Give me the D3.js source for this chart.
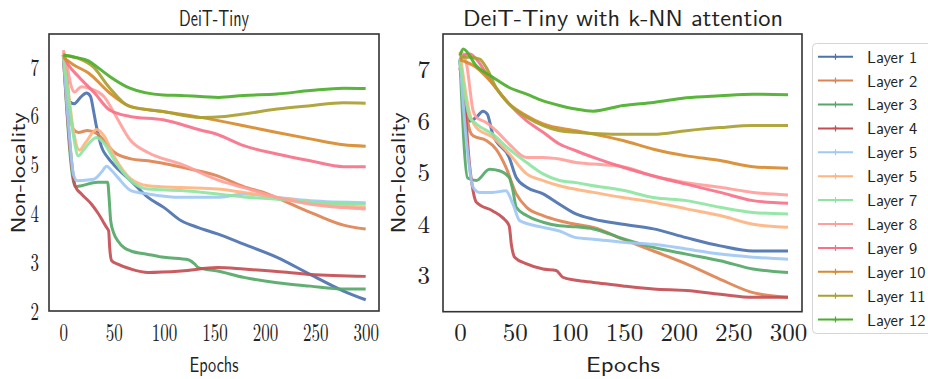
<!DOCTYPE html>
<html>
<head>
<meta charset="utf-8">
<script src="https://cdn.jsdelivr.net/npm/d3@7"></script>
<style>
  body { margin: 0; background: #fff; }
  svg { display: block; }
</style>
</head>
<body>
<div id="chart"></div>
<script>
// legend labels as in the figure (the second "Layer 5" is really layer 6)
const layerNames = ["Layer 1", "Layer 2", "Layer 3", "Layer 4", "Layer 5", "Layer 5",
  "Layer 7", "Layer 8", "Layer 9", "Layer 10", "Layer 11", "Layer 12"];
const layerColors = ["#4c72b0", "#dd8452", "#55a868", "#c44e52", "#a1c9f4", "#ffb482",
  "#8de5a1", "#ff9f9b", "#f77189", "#d88a2e", "#a9a030", "#4caf2b"];
const epochTicks = [0, 50, 100, 150, 200, 250, 300];
const yTicksLeft = [2, 3, 4, 5, 6, 7];
const yTicksRight = [3, 4, 5, 6, 7];

// DeiT-Tiny, [epoch, non-locality] per layer
const deitTiny = [
  [[0,7.25],[3,6.9],[6,6.3],[11,6.25],[17,6.38],[23,6.47],[27,6.4],[30,6.1],[33,5.77],[38,5.36],[44,5.15],[51,4.98],[67,4.67],[84,4.33],[100,4.12],[117,3.85],[134,3.71],[153,3.58],[179,3.37],[212,3.1],[245,2.75],[278,2.41],[300,2.23]],
  [[0,7.2],[5,6.3],[10,5.72],[15,5.66],[24,5.7],[34,5.63],[42,5.45],[51,5.25],[67,5.12],[84,5.08],[117,4.95],[153,4.77],[179,4.55],[200,4.42],[225,4.2],[250,3.98],[278,3.76],[300,3.68]],
  [[0,7.25],[12,4.55],[18,4.57],[34,4.64],[44,4.64],[45.5,4.3],[47,3.85],[50,3.6],[54,3.44],[67,3.23],[84,3.16],[100,3.1],[124,3.05],[130,2.97],[134,2.89],[153,2.82],[179,2.69],[212,2.58],[245,2.51],[278,2.45],[300,2.45]],
  [[0,7.25],[12,4.55],[18,4.4],[28,4.19],[34,4.02],[43,3.71],[45,3.64],[46,3.3],[48,3.03],[54,2.96],[67,2.86],[84,2.79],[117,2.82],[153,2.89],[179,2.86],[212,2.81],[245,2.75],[300,2.71]],
  [[0,7.25],[6,5.6],[10,4.8],[14,4.67],[30,4.7],[38,4.85],[43,4.97],[48,4.88],[54,4.74],[67,4.47],[84,4.4],[117,4.33],[153,4.33],[179,4.4],[212,4.33],[245,4.26],[300,4.22]],
  [[0,7.3],[5,6.5],[10,5.7],[16,5.3],[22,5.45],[33,5.72],[40,5.6],[51,5.15],[67,4.71],[84,4.57],[117,4.53],[153,4.5],[179,4.43],[212,4.33],[245,4.23],[278,4.16],[300,4.12]],
  [[0,7.25],[5,6.4],[10,5.6],[15,5.18],[20,5.3],[33,5.56],[40,5.45],[51,5.08],[67,4.67],[84,4.5],[117,4.47],[153,4.4],[179,4.34],[212,4.29],[245,4.23],[300,4.19]],
  [[0,7.35],[3,7.1],[8,6.6],[11,6.49],[18,6.6],[28,6.55],[41,6.38],[51,6.04],[67,5.49],[84,5.25],[117,5.01],[153,4.69],[179,4.53],[212,4.33],[245,4.19],[278,4.12],[300,4.09]],
  [[0,7.25],[5,7.05],[15,6.81],[31,6.47],[46,6.12],[66,5.99],[99,5.92],[136,5.71],[153,5.62],[179,5.39],[212,5.22],[245,5.08],[278,4.96],[300,4.96]],
  [[0,7.2],[10,7.05],[25,6.88],[46,6.47],[66,6.2],[99,6.09],[136,5.97],[179,5.8],[212,5.66],[245,5.53],[278,5.41],[300,5.38]],
  [[0,7.25],[15,7.18],[30,7.0],[45,6.6],[66,6.19],[99,6.09],[136,5.97],[160,5.99],[179,6.04],[212,6.14],[245,6.21],[278,6.27],[300,6.26]],
  [[0,7.25],[12,7.2],[25,7.13],[35,6.98],[46,6.81],[66,6.57],[99,6.43],[117,6.42],[154,6.38],[179,6.42],[212,6.45],[245,6.52],[278,6.57],[300,6.56]]
];

// DeiT-Tiny with k-NN attention
const deitKnn = [
  [[0,7.2],[4,6.34],[9,6.01],[15,6.08],[21,6.2],[25,6.14],[30,5.75],[45,5.3],[51.5,4.91],[61,4.72],[76,4.59],[91,4.39],[106,4.2],[122,4.1],[149,4.0],[177,3.91],[207,3.74],[238,3.58],[268,3.48],[300,3.48]],
  [[0,7.2],[9,5.82],[12,5.72],[24,5.63],[33,5.46],[42,5.11],[51.5,4.59],[61,4.33],[76,4.17],[91,4.07],[106,4.0],[122,3.94],[149,3.71],[177,3.48],[207,3.23],[238,2.93],[268,2.67],[300,2.58]],
  [[0,7.2],[7,4.9],[15,4.85],[27,5.07],[36,5.04],[45,4.91],[48.5,4.65],[51.5,4.33],[61,4.17],[76,4.04],[91,3.97],[106,3.95],[122,3.91],[149,3.72],[177,3.55],[207,3.42],[238,3.29],[268,3.13],[300,3.06]],
  [[0,7.05],[4,6.4],[9,5.11],[12,4.65],[15,4.43],[30,4.26],[39,4.13],[45,3.97],[47,3.61],[50,3.36],[61,3.23],[76,3.13],[88,3.1],[94,2.97],[106,2.91],[122,2.87],[149,2.8],[177,2.74],[207,2.71],[238,2.64],[268,2.58],[300,2.58]],
  [[0,7.2],[6,5.6],[12,4.72],[18,4.62],[30,4.62],[42,4.65],[48.5,4.39],[54.6,4.07],[76,3.94],[91,3.87],[106,3.74],[122,3.71],[149,3.65],[177,3.61],[207,3.52],[238,3.42],[268,3.36],[300,3.32]],
  [[0,7.35],[9,6.14],[15,5.88],[30,5.69],[45,5.37],[61,4.98],[76,4.85],[91,4.75],[106,4.68],[122,4.62],[149,4.52],[177,4.43],[207,4.3],[238,4.17],[268,4.0],[300,3.94]],
  [[0,7.2],[9,6.08],[15,5.95],[30,5.75],[45,5.46],[61,5.2],[76,4.98],[91,4.85],[106,4.81],[122,4.75],[149,4.66],[177,4.52],[207,4.46],[238,4.33],[268,4.23],[300,4.2]],
  [[0,7.35],[3,7.3],[6,7.12],[12,6.21],[15,6.08],[24,5.98],[33,5.82],[45,5.56],[61,5.3],[76,5.3],[91,5.27],[106,5.2],[122,5.17],[149,5.12],[177,4.94],[207,4.81],[238,4.72],[268,4.62],[300,4.57]],
  [[0,7.2],[5,7.3],[9,7.31],[15,7.21],[30,6.73],[45,6.34],[61,6.01],[76,5.79],[91,5.56],[106,5.43],[122,5.3],[149,5.11],[177,4.94],[207,4.78],[238,4.62],[268,4.46],[300,4.41]],
  [[0,7.2],[15,7.05],[30,6.73],[45,6.34],[61,6.11],[76,5.95],[106,5.82],[149,5.63],[177,5.46],[207,5.33],[238,5.24],[268,5.12],[300,5.09]],
  [[0,7.25],[9,7.25],[18,7.21],[24,7.05],[33,6.66],[45,6.34],[61,6.08],[76,5.92],[91,5.82],[106,5.79],[149,5.75],[177,5.75],[207,5.82],[238,5.88],[268,5.92],[300,5.92]],
  [[0,7.28],[3,7.41],[15,7.08],[30,6.86],[45,6.66],[61,6.53],[76,6.4],[91,6.31],[106,6.24],[122,6.2],[149,6.31],[177,6.37],[207,6.46],[238,6.5],[268,6.53],[300,6.52]]
];

const width = 928, height = 379;
const sans = "'Latin Modern Sans', 'CMU Sans Serif', Lato, sans-serif";
const serif = "'Latin Modern Roman', 'Liberation Serif', serif";
const ink = "#222";

const svg = d3.select("#chart").append("svg")
  .attr("width", width)
  .attr("height", height)
  .attr("viewBox", [0, 0, width, height]);

function panel(opts) {
  const x = d3.scaleLinear().domain(opts.xDomain).range([opts.left, opts.right]);
  const y = d3.scaleLinear().domain(opts.yDomain).range([opts.bottom, opts.top]);
  const sx = opts.squeeze;
  const g = svg.append("g");

  const clipId = "clip" + opts.id;
  g.append("clipPath").attr("id", clipId).append("rect")
    .attr("x", opts.left).attr("y", opts.top)
    .attr("width", opts.right - opts.left).attr("height", opts.bottom - opts.top);

  const line = d3.line()
    .x(d => x(d[0]))
    .y(d => y(d[1]))
    .curve(d3.curveMonotoneX);

  g.append("g").attr("clip-path", `url(#${clipId})`)
    .selectAll("path")
    .data(opts.data)
    .join("path")
    .attr("fill", "none")
    .attr("stroke", (d, i) => layerColors[i])
    .attr("stroke-width", 3)
    .attr("stroke-opacity", 0.92)
    .attr("stroke-linejoin", "round")
    .attr("d", line);

  // frame
  g.append("rect")
    .attr("x", opts.left).attr("y", opts.top)
    .attr("width", opts.right - opts.left).attr("height", opts.bottom - opts.top)
    .attr("fill", "none").attr("stroke", "#333").attr("stroke-width", 1.6);

  const xAxis = g.append("g")
    .attr("transform", `translate(0,${opts.bottom})`)
    .call(d3.axisBottom(x).tickValues(epochTicks).tickSize(0).tickPadding(12).tickFormat(d3.format("d")));
  const yAxis = g.append("g")
    .attr("transform", `translate(${opts.left},0)`)
    .call(d3.axisLeft(y).tickValues(opts.yTicks).tickSize(0).tickPadding(opts.yPad / sx).tickFormat(d3.format("d")));
  [xAxis, yAxis].forEach(a => {
    a.attr("font-family", null).attr("font-size", null);
    a.select(".domain").remove();
    a.selectAll("text")
      .style("font-family", serif)
      .style("font-size", "25px")
      .attr("fill", ink)
      .attr("transform", `scale(${sx},1)`);
  });

  g.append("text")
    .attr("x", opts.titleX).attr("y", 26)
    .attr("text-anchor", "middle")
    .style("font-family", sans).style("font-size", "23px").attr("fill", ink)
    .attr("textLength", opts.titleLen).attr("lengthAdjust", "spacingAndGlyphs")
    .text(opts.title);

  g.append("text")
    .attr("x", opts.titleX).attr("y", 372)
    .attr("text-anchor", "middle")
    .style("font-family", sans).style("font-size", "22px").attr("fill", ink)
    .attr("textLength", opts.epochLen).attr("lengthAdjust", "spacingAndGlyphs")
    .text("Epochs");

  g.append("text")
    .attr("transform", `translate(${opts.ylabX},173) rotate(-90)`)
    .attr("text-anchor", "middle")
    .style("font-family", sans).style("font-size", "20px").attr("fill", ink)
    .attr("textLength", 121).attr("lengthAdjust", "spacingAndGlyphs")
    .text("Non-locality");
}

panel({
  id: "L", data: deitTiny, title: "DeiT-Tiny",
  left: 49, right: 379, top: 34, bottom: 311,
  xDomain: [-14.2, 313.2], yDomain: [2, 7.68], yTicks: yTicksLeft,
  squeeze: 0.68, yPad: 10, titleX: 214, titleLen: 70, epochLen: 49, ylabX: 25
});

panel({
  id: "R", data: deitKnn, title: "DeiT-Tiny with k-NN attention",
  left: 443, right: 802, top: 34, bottom: 311.7,
  xDomain: [-15.5, 312.8], yDomain: [2.3, 7.7], yTicks: yTicksRight,
  squeeze: 1, yPad: 13, titleX: 623, titleLen: 320, epochLen: 74, ylabX: 405
});

// legend
const legend = svg.append("g");
legend.append("rect")
  .attr("x", 812.5).attr("y", 43.5)
  .attr("width", 130).attr("height", 290)
  .attr("rx", 4)
  .attr("fill", "#fff").attr("stroke", "#d5d5d5").attr("stroke-width", 1);

const rows = legend.selectAll("g.row")
  .data(layerNames)
  .join("g")
  .attr("class", "row")
  .attr("transform", (d, i) => `translate(0,${56.7 + i * 23.9})`);

rows.append("line")
  .attr("x1", 818).attr("x2", 853)
  .attr("stroke", (d, i) => layerColors[i])
  .attr("stroke-width", 2);
rows.append("path")
  .attr("d", "M832.5,0H838.5M835.5,-3V3")
  .attr("stroke", (d, i) => layerColors[i])
  .attr("stroke-width", 1.2);
rows.append("text")
  .attr("x", 867).attr("y", 0)
  .attr("dy", "0.36em")
  .style("font-family", sans).style("font-size", "16.5px").attr("fill", ink)
  .text(d => d);
</script>
</body>
</html>
